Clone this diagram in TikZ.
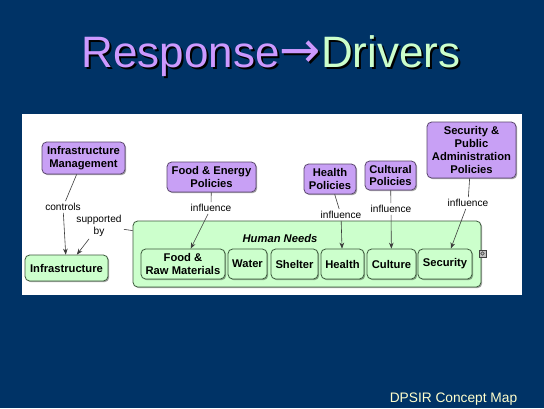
\documentclass[tikz,border=0pt]{standalone}
\usepackage{fontspec}
\setmainfont{Liberation Sans}
\newfontfamily\arrowfont{DejaVu Sans}
\usetikzlibrary{arrows.meta,shadows}
\definecolor{bgblue}{RGB}{0,51,102}
\definecolor{purplefill}{RGB}{200,160,245}
\definecolor{purpleline}{RGB}{90,70,110}
\definecolor{greenfill}{RGB}{204,255,204}
\definecolor{greenline}{RGB}{60,90,60}
\definecolor{titlepurple}{RGB}{204,153,255}
\definecolor{titlegreen}{RGB}{204,255,204}
\definecolor{footyellow}{RGB}{255,255,204}
\definecolor{linkgrey}{RGB}{60,60,60}
\newcommand{\titlearrow}{\raisebox{-0.5pt}{\scalebox{1.12}[1.15]{\arrowfont\char"2192}}}
\tikzset{
  boxshadow/.style={drop shadow={shadow xshift=0.9pt, shadow yshift=-0.9pt, opacity=0.35, fill=black}},
  polbox/.style={draw=purpleline, fill=purplefill, rounded corners=3.5pt, line width=0.6pt, boxshadow,
    font=\fontsize{8.4pt}{9.6pt}\selectfont\bfseries, align=center, inner sep=0pt, text=black},
  needbox/.style={draw=greenline, fill=greenfill, rounded corners=3.5pt, line width=0.6pt, boxshadow,
    font=\fontsize{8.4pt}{9.6pt}\selectfont\bfseries, align=center, inner sep=0pt, text=black},
  linklabel/.style={font=\fontsize{7.6pt}{8.8pt}\selectfont, align=center, inner sep=1.5pt, text=black},
  linkline/.style={draw=linkgrey, line width=0.45pt},
  linkarrow/.style={draw=linkgrey, line width=0.45pt, -{Stealth[length=4.5pt,width=3.5pt]}}
}
\begin{document}
\begin{tikzpicture}[x=0.75pt,y=-0.75pt]
\useasboundingbox (0,0) rectangle (544,408);
\fill[bgblue] (0,0) rectangle (544,408);
% title
\node[anchor=base, font=\fontsize{33pt}{36pt}\selectfont, text=black] (titleshadow) at (273,69)
  {Response\titlearrow Drivers};
\node[anchor=base, font=\fontsize{33pt}{36pt}\selectfont] (title) at (271,67)
  {\textcolor{titlepurple}{Response\titlearrow}\textcolor{titlegreen}{Drivers}};
% panel
\fill[white] (22,114) rectangle (522,295);
% container
\node[needbox, minimum width=348*0.75pt, minimum height=66*0.75pt] (hn) at (307,254) {};
\node[font=\fontsize{8.4pt}{9.6pt}\selectfont\bfseries\itshape, inner sep=0pt] (hntitle) at (280,238) {Human Needs};
% policy boxes
\node[polbox, minimum width=83*0.75pt, minimum height=32*0.75pt] (im) at (83.5,158) {Infrastructure\\Management};
\node[polbox, minimum width=89*0.75pt, minimum height=30*0.75pt] (fep) at (211.5,177) {Food \& Energy\\Policies};
\node[polbox, minimum width=52*0.75pt, minimum height=30*0.75pt] (hp) at (330,179) {Health\\Policies};
\node[polbox, minimum width=51*0.75pt, minimum height=29*0.75pt] (cp) at (390.5,175.5) {Cultural\\Policies};
\node[polbox, minimum width=89*0.75pt, minimum height=56*0.75pt] (sp) at (471.5,150) {Security \&\\Public\\Administration\\Policies};
% need boxes
\node[needbox, minimum width=83*0.75pt, minimum height=26*0.75pt] (infra) at (66.5,268) {Infrastructure};
\node[needbox, minimum width=84*0.75pt, minimum height=30*0.75pt] (frm) at (183,264) {Food \&\\Raw Materials};
\node[needbox, minimum width=39*0.75pt, minimum height=30*0.75pt] (water) at (247.5,264) {Water};
\node[needbox, minimum width=47*0.75pt, minimum height=30*0.75pt] (shelter) at (294.5,264) {Shelter};
\node[needbox, minimum width=43*0.75pt, minimum height=30*0.75pt] (health) at (342.5,264) {Health};
\node[needbox, minimum width=49*0.75pt, minimum height=30*0.75pt] (culture) at (391.5,264) {Culture};
\node[needbox, minimum width=54*0.75pt, minimum height=30*0.75pt] (security) at (445,264) {Security};
% small icon
\node[draw=darkgray, fill=lightgray, line width=0.4pt, minimum width=5.5pt, minimum height=5pt, inner sep=0pt] (icon) at (482.5,253.5) {};
\draw[darkgray, line width=0.5pt] (icon.center) circle (1.3pt);
% labels
\node[linklabel] (ctrl) at (63,207) {controls};
\node[linklabel] (sup) at (99,226) {supported\\by};
\node[linklabel] (inf1) at (211,208) {influence};
\node[linklabel] (inf2) at (341,215) {influence};
\node[linklabel] (inf3) at (391,209) {influence};
\node[linklabel] (inf4) at (468,203) {influence};
% connectors
\draw[linkline] (im) -- (ctrl);
\draw[linkarrow] (ctrl) -- (infra);
\draw[linkline] (hn) -- (sup);
\draw[linkarrow] (sup) -- (infra);
\draw[linkline] (fep) -- (inf1);
\draw[linkarrow] (inf1) -- (frm);
\draw[linkline] (hp) -- (inf2);
\draw[linkarrow] (inf2) -- (health);
\draw[linkline] (cp) -- (inf3);
\draw[linkarrow] (inf3) -- (culture);
\draw[linkline] (sp) -- (inf4);
\draw[linkarrow] (inf4) -- (security);
% footer
\node[anchor=base, font=\fontsize{10.3pt}{12pt}\selectfont, text=footyellow] (footer) at (453.5,402) {DPSIR Concept Map};
\end{tikzpicture}
\end{document}
